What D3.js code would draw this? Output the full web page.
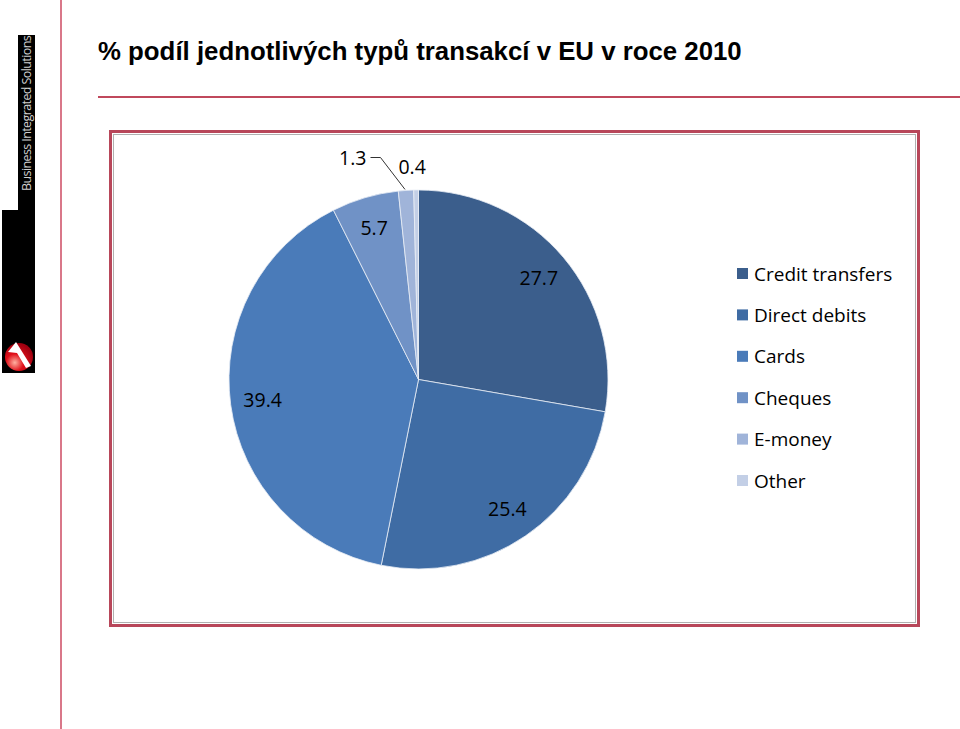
<html>
<head>
  <meta charset="UTF-8">
  <title>% podíl jednotlivých typů transakcí v EU v roce 2010</title>
  <script src="https://d3js.org/d3.v7.min.js"></script>
  <style>
    body { margin: 0; background: white; }
    svg { display: block; }
  </style>
</head>
<body>
    <svg id="chart"></svg>

    <script>
        // Data
        const categories = ["Credit transfers", "Direct debits", "Cards", "Cheques", "E-money", "Other"];
        const shares = [27.7, 25.4, 39.4, 5.7, 1.3, 0.4];
        const labels = ["27.7", "25.4", "39.4", "5.7", "1.3", "0.4"];
        const colors = ["#3b5e8c", "#3f6ca4", "#4a7bb9", "#7092c6", "#a0b4d9", "#c3cfe6"];

        const width = 960;
        const height = 729;

        let svg = d3.select("#chart")
                    .attr("width", width)
                    .attr("height", height);

        // Slide decoration: red rules
        svg.append("line")
            .attr("x1", 61).attr("x2", 61).attr("y1", 0).attr("y2", height)
            .style("stroke", "#cc4a62").style("stroke-width", 1.5);

        svg.append("line")
            .attr("x1", 98).attr("x2", width).attr("y1", 97).attr("y2", 97)
            .style("stroke", "#c0485c").style("stroke-width", 2);

        // Logo bar
        svg.append("rect").attr("x", 18).attr("y", 35).attr("width", 17).attr("height", 176).style("fill", "black");
        svg.append("rect").attr("x", 2).attr("y", 210).attr("width", 33).attr("height", 163).style("fill", "black");
        svg.append("text")
            .attr("transform", "translate(31, 191) rotate(-90)")
            .style("font-family", "'Open Sans', sans-serif")
            .style("font-size", "12.5px")
            .style("letter-spacing", "-0.6px")
            .style("fill", "#cfcfcf")
            .text("Business Integrated Solutions");

        let grad = svg.append("defs").append("radialGradient").attr("id", "logoGrad")
            .attr("cx", "35%").attr("cy", "70%").attr("r", "70%");
        grad.append("stop").attr("offset", "0%").attr("stop-color", "#ffb0a0");
        grad.append("stop").attr("offset", "45%").attr("stop-color", "#e0101a");
        grad.append("stop").attr("offset", "100%").attr("stop-color", "#a00010");
        svg.append("circle").attr("cx", 19).attr("cy", 357).attr("r", 14).style("fill", "url(#logoGrad)");
        svg.append("path").attr("d", "M8,352 L16,342 L31,366 L26,368 L17,353 Z").style("fill", "white");

        // Title
        svg.append("text")
            .attr("x", 98).attr("y", 60)
            .style("font-family", "'Liberation Sans', Arial, sans-serif")
            .style("font-weight", "bold")
            .style("font-size", "25.8px")
            .style("fill", "black")
            .text("% podíl jednotlivých typů transakcí v EU v roce 2010");

        // Chart frame
        svg.append("rect")
            .attr("x", 110.5).attr("y", 131.5).attr("width", 808).attr("height", 494)
            .style("fill", "white").style("stroke", "#b8475a").style("stroke-width", 3);
        svg.append("rect")
            .attr("x", 113.5).attr("y", 134.5).attr("width", 802).attr("height", 488)
            .style("fill", "none").style("stroke", "#b0b0b0").style("stroke-width", 1);

        // Pie
        const cx = 418.5, cy = 379.5, radius = 189.5;
        let pieArea = svg.append("g").attr("transform", `translate(${cx}, ${cy})`);

        const pie = d3.pie().sort(null).value(d => d);
        const arcs = pie(shares);
        const arc = d3.arc().innerRadius(0).outerRadius(radius);
        const labelArc = d3.arc().innerRadius(radius * 0.83).outerRadius(radius * 0.83);

        pieArea.selectAll("path.slice")
            .data(arcs)
            .join("path")
            .attr("class", "slice")
            .attr("d", arc)
            .style("fill", (d, i) => colors[i])
            .style("stroke", "#e8edf5")
            .style("stroke-width", 0.8);

        const labelFont = "'Open Sans', sans-serif";

        // inner labels for the big slices
        pieArea.selectAll("text.inner")
            .data(arcs.slice(0, 4))
            .join("text")
            .attr("class", "inner")
            .attr("x", d => labelArc.centroid(d)[0])
            .attr("y", d => labelArc.centroid(d)[1])
            .attr("dy", "0.35em")
            .attr("text-anchor", "middle")
            .style("font-family", labelFont)
            .style("font-size", "19.5px")
            .style("fill", "black")
            .text((d, i) => labels[i]);

        // outside labels for the small slices
        const emoney = arcs[4], other = arcs[5];
        const emMid = (emoney.startAngle + emoney.endAngle) / 2;
        const otMid = (other.startAngle + other.endAngle) / 2;
        const edge = a => [Math.sin(a) * radius, -Math.cos(a) * radius];

        const emEdge = edge(emMid);
        pieArea.append("polyline")
            .attr("points", [[emEdge[0] - 1, emEdge[1] - 1], [-38, -222], [-48, -222]].map(p => p.join(",")).join(" "))
            .style("fill", "none").style("stroke", "#333").style("stroke-width", 1);
        pieArea.append("text")
            .attr("x", -52).attr("y", -215)
            .attr("text-anchor", "end")
            .style("font-family", labelFont)
            .style("font-size", "19.5px")
            .text(labels[4]);

        const otEdge = edge(otMid);
        pieArea.append("text")
            .attr("x", otEdge[0] - 4).attr("y", otEdge[1] - 16)
            .attr("text-anchor", "middle")
            .style("font-family", labelFont)
            .style("font-size", "19.5px")
            .text(labels[5]);

        // Legend
        let legend = svg.append("g").attr("transform", "translate(737, 274)");
        const legendScale = d3.scalePoint().domain(categories).range([0, 207]);

        categories.forEach((c, i) => {
            legend.append("rect")
                .attr("x", 0).attr("y", legendScale(c) - 6)
                .attr("width", 11).attr("height", 11)
                .style("fill", colors[i]);
            legend.append("text")
                .attr("x", 17).attr("y", legendScale(c))
                .attr("dy", "0.35em")
                .style("font-family", labelFont)
                .style("font-size", "19px")
                .style("fill", "black")
                .text(c);
        });
    </script>
</body>
</html>
